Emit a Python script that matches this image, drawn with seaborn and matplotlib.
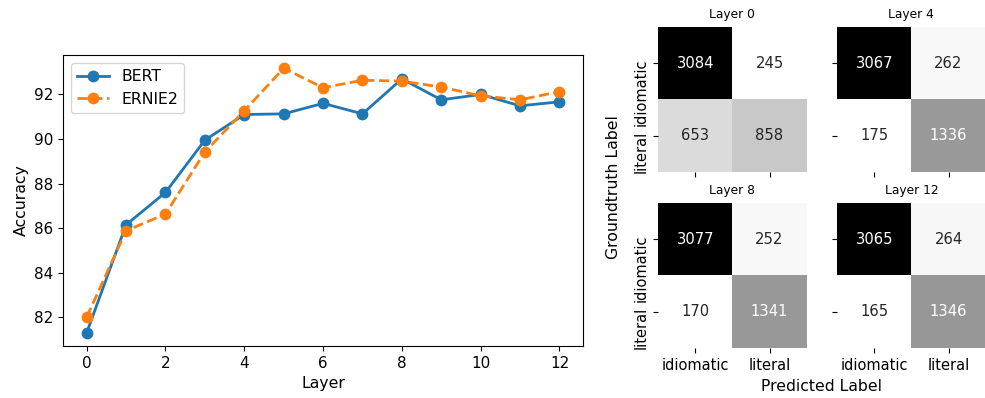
import numpy as np
import pandas as pd
import matplotlib
matplotlib.use("Agg")
import matplotlib.pyplot as plt
import matplotlib.transforms as mtransforms
import seaborn as sns

# ---------------- data ----------------
layers = list(range(13))
bert_acc = [81.3, 86.15, 87.6, 89.95, 91.1, 91.13, 91.6, 91.13, 92.7, 91.76, 92.0, 91.49, 91.67]
ernie_acc = [82.0, 85.88, 86.63, 89.42, 91.27, 93.18, 92.3, 92.64, 92.6, 92.33, 91.94, 91.76, 92.13]

class_labels = ["idiomatic", "literal"]
cm_layer0 = [[3084, 245], [653, 858]]
cm_layer4 = [[3067, 262], [175, 1336]]
cm_layer8 = [[3077, 252], [170, 1341]]
cm_layer12 = [[3065, 264], [165, 1346]]
cm_titles = ["Layer 0", "Layer 4", "Layer 8", "Layer 12"]

FS_LAB = 11.3
FS_TICK = 10.9

fig = plt.figure(figsize=(9.85, 3.98), dpi=100)

# ---------------- line plot ----------------
ax = fig.add_axes([0.064, 0.1307, 0.528, 0.7312])
sns.lineplot(x=layers, y=bert_acc, ax=ax, color="#1f77b4", marker="o", lw=2,
             markersize=8.5, markeredgewidth=0, label="BERT")
sns.lineplot(x=layers, y=ernie_acc, ax=ax, color="#ff7f0e", marker="o", lw=2,
             linestyle="--", markersize=8.5, markeredgewidth=0, label="ERNIE2")
ax.set_xlabel("Layer", fontsize=FS_LAB)
ax.set_ylabel("Accuracy", fontsize=FS_LAB)
ax.tick_params(labelsize=FS_TICK)
ax.set_xticks([0, 2, 4, 6, 8, 10, 12])
ax.set_yticks([82, 84, 86, 88, 90, 92])
ax.legend(loc="upper left", fontsize=FS_LAB)

# ---------------- confusion matrices ----------------
w = 0.151
h = 0.365
xs = [0.668, 0.8497]
ys = [0.5678, 0.1256]
mats = [cm_layer0, cm_layer4, cm_layer8, cm_layer12]
offset = mtransforms.ScaledTranslation(0, 5 / 100, fig.dpi_scale_trans)
for i, (cm, title) in enumerate(zip(mats, cm_titles)):
    r, c = divmod(i, 2)
    hax = fig.add_axes([xs[c], ys[r], w, h])
    df = pd.DataFrame(cm, index=class_labels, columns=class_labels)
    sns.heatmap(df, ax=hax, cmap="gray_r", annot=True, fmt="d", cbar=False,
                annot_kws={"fontsize": 10.6})
    hax.set_title(title, fontsize=8.8)
    hax.tick_params(axis="x", labelsize=10.5, rotation=0)
    hax.tick_params(axis="y", labelsize=10.5)
    for lab in hax.get_yticklabels():
        lab.set_rotation(90)
        lab.set_va("top")
        lab.set_transform(lab.get_transform() + offset)
    if r == 0:
        hax.tick_params(labelbottom=False)
    if c == 1:
        hax.tick_params(labelleft=False)

fig.text(0.6225, 0.53, "Groundtruth Label", rotation=90, ha="center", va="center", fontsize=FS_LAB)
fig.text(0.834, 0.03, "Predicted Label", ha="center", va="center", fontsize=FS_LAB)

fig.savefig("out.png", dpi=100)
